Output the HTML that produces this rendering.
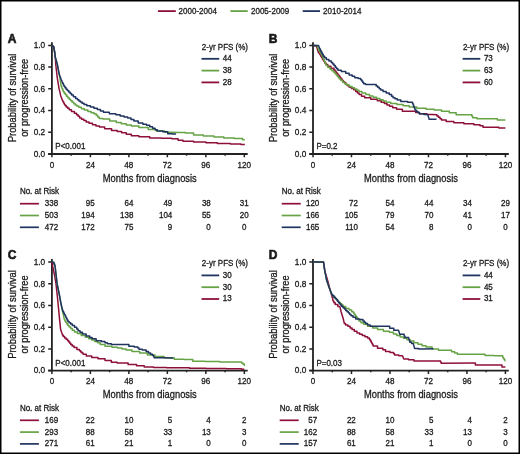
<!DOCTYPE html>
<html><head><meta charset="utf-8"><style>
html,body{margin:0;padding:0;background:#fff;}
svg{display:block;will-change:transform;}
text{font-family:"Liberation Sans", sans-serif;fill:#1a1a1a;stroke:#1a1a1a;stroke-width:0.3px;}
</style></head><body>
<svg width="520" height="454" viewBox="0 0 520 454">
<rect x="0" y="0" width="520" height="454" fill="#fff"/>
<path d="M157.9,11.1 H175.8" stroke="#8e1039" stroke-width="1.8"/>
<text x="178.60" y="13.80" font-size="8.7" textLength="38.26" lengthAdjust="spacingAndGlyphs">2000-2004</text>
<path d="M230.4,11.1 H247.7" stroke="#66a345" stroke-width="1.8"/>
<text x="251.00" y="13.80" font-size="8.7" textLength="38.26" lengthAdjust="spacingAndGlyphs">2005-2009</text>
<path d="M302.7,11.1 H320.0" stroke="#203460" stroke-width="1.8"/>
<text x="323.10" y="13.80" font-size="8.7" textLength="38.26" lengthAdjust="spacingAndGlyphs">2010-2014</text>
<g transform="translate(0,0)">
<text x="7.7" y="42.5" font-size="12" font-weight="bold" style="stroke-width:0.6px">A</text>
<text transform="translate(15.6,97.95) rotate(-90)" text-anchor="middle" font-size="10" textLength="88.6" lengthAdjust="spacingAndGlyphs">Probability of survival</text>
<text transform="translate(27.7,97.8) rotate(-90)" text-anchor="middle" font-size="10" textLength="78" lengthAdjust="spacingAndGlyphs">or progression-free</text>
<path d="M51.9,42.3 V154.0 M48.2,154.0 H247.7" stroke="#222" stroke-width="1.8" fill="none"/>
<path d="M48.2,154.00 H51.9 M48.2,132.28 H51.9 M48.2,110.56 H51.9 M48.2,88.84 H51.9 M48.2,67.12 H51.9 M48.2,45.40 H51.9 M51.90,154.0 V157.30 M71.14,154.0 V155.70 M90.38,154.0 V157.30 M109.63,154.0 V155.70 M128.87,154.0 V157.30 M148.11,154.0 V155.70 M167.35,154.0 V157.30 M186.59,154.0 V155.70 M205.84,154.0 V157.30 M225.08,154.0 V155.70 M244.32,154.0 V157.30" stroke="#222" stroke-width="1.5" fill="none"/>
<text x="45.20" y="156.80" font-size="8.7" text-anchor="end" textLength="11.47" lengthAdjust="spacingAndGlyphs">0.0</text>
<text x="45.20" y="135.08" font-size="8.7" text-anchor="end" textLength="11.47" lengthAdjust="spacingAndGlyphs">0.2</text>
<text x="45.20" y="113.36" font-size="8.7" text-anchor="end" textLength="11.47" lengthAdjust="spacingAndGlyphs">0.4</text>
<text x="45.20" y="91.64" font-size="8.7" text-anchor="end" textLength="11.47" lengthAdjust="spacingAndGlyphs">0.6</text>
<text x="45.20" y="69.92" font-size="8.7" text-anchor="end" textLength="11.47" lengthAdjust="spacingAndGlyphs">0.8</text>
<text x="45.20" y="48.20" font-size="8.7" text-anchor="end" textLength="11.47" lengthAdjust="spacingAndGlyphs">1.0</text>
<text x="51.90" y="167.60" font-size="8.7" text-anchor="middle" textLength="4.50" lengthAdjust="spacingAndGlyphs">0</text>
<text x="90.38" y="167.60" font-size="8.7" text-anchor="middle" textLength="9.01" lengthAdjust="spacingAndGlyphs">24</text>
<text x="128.87" y="167.60" font-size="8.7" text-anchor="middle" textLength="9.01" lengthAdjust="spacingAndGlyphs">48</text>
<text x="167.35" y="167.60" font-size="8.7" text-anchor="middle" textLength="9.01" lengthAdjust="spacingAndGlyphs">72</text>
<text x="205.84" y="167.60" font-size="8.7" text-anchor="middle" textLength="9.01" lengthAdjust="spacingAndGlyphs">96</text>
<text x="244.32" y="167.60" font-size="8.7" text-anchor="middle" textLength="13.51" lengthAdjust="spacingAndGlyphs">120</text>
<text x="102.8" y="182.0" font-size="10.8" textLength="94.0" lengthAdjust="spacingAndGlyphs">Months from diagnosis</text>
<text x="55.30" y="149.30" font-size="8.7" textLength="30.03" lengthAdjust="spacingAndGlyphs">P&lt;0.001</text>
<text x="201.80" y="49.60" font-size="8.7" textLength="46.22" lengthAdjust="spacingAndGlyphs">2-yr PFS (%)</text>
<path d="M201.5,58.8 H219.2" stroke="#203460" stroke-width="1.8"/>
<text x="222.80" y="61.25" font-size="8.2" textLength="8.90" lengthAdjust="spacingAndGlyphs">44</text>
<path d="M201.5,70.6 H219.2" stroke="#66a345" stroke-width="1.8"/>
<text x="222.80" y="73.05" font-size="8.2" textLength="8.90" lengthAdjust="spacingAndGlyphs">38</text>
<path d="M201.5,82.4 H219.2" stroke="#8e1039" stroke-width="1.8"/>
<text x="222.80" y="84.85" font-size="8.2" textLength="8.90" lengthAdjust="spacingAndGlyphs">28</text>
<text x="19.90" y="194.20" font-size="8.7" textLength="39.12" lengthAdjust="spacingAndGlyphs">No. at Risk</text>
<path d="M19.9,203.7 H38.9" stroke="#8e1039" stroke-width="1.7"/>
<text x="58.20" y="206.30" font-size="8.7" text-anchor="end" textLength="13.35" lengthAdjust="spacingAndGlyphs">338</text>
<text x="94.70" y="206.30" font-size="8.7" text-anchor="end" textLength="8.90" lengthAdjust="spacingAndGlyphs">95</text>
<text x="133.40" y="206.30" font-size="8.7" text-anchor="end" textLength="8.90" lengthAdjust="spacingAndGlyphs">64</text>
<text x="172.30" y="206.30" font-size="8.7" text-anchor="end" textLength="8.90" lengthAdjust="spacingAndGlyphs">49</text>
<text x="210.80" y="206.30" font-size="8.7" text-anchor="end" textLength="8.90" lengthAdjust="spacingAndGlyphs">38</text>
<text x="244.30" y="206.30" font-size="8.7" text-anchor="middle" textLength="8.90" lengthAdjust="spacingAndGlyphs">31</text>
<path d="M19.9,215.5 H38.9" stroke="#66a345" stroke-width="1.7"/>
<text x="58.20" y="218.10" font-size="8.7" text-anchor="end" textLength="13.35" lengthAdjust="spacingAndGlyphs">503</text>
<text x="94.70" y="218.10" font-size="8.7" text-anchor="end" textLength="13.35" lengthAdjust="spacingAndGlyphs">194</text>
<text x="133.40" y="218.10" font-size="8.7" text-anchor="end" textLength="13.35" lengthAdjust="spacingAndGlyphs">138</text>
<text x="172.30" y="218.10" font-size="8.7" text-anchor="end" textLength="13.35" lengthAdjust="spacingAndGlyphs">104</text>
<text x="210.80" y="218.10" font-size="8.7" text-anchor="end" textLength="8.90" lengthAdjust="spacingAndGlyphs">55</text>
<text x="244.30" y="218.10" font-size="8.7" text-anchor="middle" textLength="8.90" lengthAdjust="spacingAndGlyphs">20</text>
<path d="M19.9,227.3 H38.9" stroke="#203460" stroke-width="1.7"/>
<text x="58.20" y="229.90" font-size="8.7" text-anchor="end" textLength="13.35" lengthAdjust="spacingAndGlyphs">472</text>
<text x="94.70" y="229.90" font-size="8.7" text-anchor="end" textLength="13.35" lengthAdjust="spacingAndGlyphs">172</text>
<text x="133.40" y="229.90" font-size="8.7" text-anchor="end" textLength="8.90" lengthAdjust="spacingAndGlyphs">75</text>
<text x="172.30" y="229.90" font-size="8.7" text-anchor="end" textLength="4.45" lengthAdjust="spacingAndGlyphs">9</text>
<text x="210.80" y="229.90" font-size="8.7" text-anchor="end" textLength="4.45" lengthAdjust="spacingAndGlyphs">0</text>
<text x="244.30" y="229.90" font-size="8.7" text-anchor="middle" textLength="4.45" lengthAdjust="spacingAndGlyphs">0</text>
</g>
<g transform="translate(261.1,0)">
<text x="7.7" y="42.5" font-size="12" font-weight="bold" style="stroke-width:0.6px">B</text>
<text transform="translate(15.6,97.95) rotate(-90)" text-anchor="middle" font-size="10" textLength="88.6" lengthAdjust="spacingAndGlyphs">Probability of survival</text>
<text transform="translate(27.7,97.8) rotate(-90)" text-anchor="middle" font-size="10" textLength="78" lengthAdjust="spacingAndGlyphs">or progression-free</text>
<path d="M51.9,42.3 V154.0 M48.2,154.0 H247.7" stroke="#222" stroke-width="1.8" fill="none"/>
<path d="M48.2,154.00 H51.9 M48.2,132.28 H51.9 M48.2,110.56 H51.9 M48.2,88.84 H51.9 M48.2,67.12 H51.9 M48.2,45.40 H51.9 M51.90,154.0 V157.30 M71.14,154.0 V155.70 M90.38,154.0 V157.30 M109.63,154.0 V155.70 M128.87,154.0 V157.30 M148.11,154.0 V155.70 M167.35,154.0 V157.30 M186.59,154.0 V155.70 M205.84,154.0 V157.30 M225.08,154.0 V155.70 M244.32,154.0 V157.30" stroke="#222" stroke-width="1.5" fill="none"/>
<text x="45.20" y="156.80" font-size="8.7" text-anchor="end" textLength="11.47" lengthAdjust="spacingAndGlyphs">0.0</text>
<text x="45.20" y="135.08" font-size="8.7" text-anchor="end" textLength="11.47" lengthAdjust="spacingAndGlyphs">0.2</text>
<text x="45.20" y="113.36" font-size="8.7" text-anchor="end" textLength="11.47" lengthAdjust="spacingAndGlyphs">0.4</text>
<text x="45.20" y="91.64" font-size="8.7" text-anchor="end" textLength="11.47" lengthAdjust="spacingAndGlyphs">0.6</text>
<text x="45.20" y="69.92" font-size="8.7" text-anchor="end" textLength="11.47" lengthAdjust="spacingAndGlyphs">0.8</text>
<text x="45.20" y="48.20" font-size="8.7" text-anchor="end" textLength="11.47" lengthAdjust="spacingAndGlyphs">1.0</text>
<text x="51.90" y="167.60" font-size="8.7" text-anchor="middle" textLength="4.50" lengthAdjust="spacingAndGlyphs">0</text>
<text x="90.38" y="167.60" font-size="8.7" text-anchor="middle" textLength="9.01" lengthAdjust="spacingAndGlyphs">24</text>
<text x="128.87" y="167.60" font-size="8.7" text-anchor="middle" textLength="9.01" lengthAdjust="spacingAndGlyphs">48</text>
<text x="167.35" y="167.60" font-size="8.7" text-anchor="middle" textLength="9.01" lengthAdjust="spacingAndGlyphs">72</text>
<text x="205.84" y="167.60" font-size="8.7" text-anchor="middle" textLength="9.01" lengthAdjust="spacingAndGlyphs">96</text>
<text x="244.32" y="167.60" font-size="8.7" text-anchor="middle" textLength="13.51" lengthAdjust="spacingAndGlyphs">120</text>
<text x="102.8" y="182.0" font-size="10.8" textLength="94.0" lengthAdjust="spacingAndGlyphs">Months from diagnosis</text>
<text x="55.30" y="149.30" font-size="8.7" textLength="21.13" lengthAdjust="spacingAndGlyphs">P=0.2</text>
<text x="201.80" y="49.60" font-size="8.7" textLength="46.22" lengthAdjust="spacingAndGlyphs">2-yr PFS (%)</text>
<path d="M201.5,58.8 H219.2" stroke="#203460" stroke-width="1.8"/>
<text x="222.80" y="61.25" font-size="8.2" textLength="8.90" lengthAdjust="spacingAndGlyphs">73</text>
<path d="M201.5,70.6 H219.2" stroke="#66a345" stroke-width="1.8"/>
<text x="222.80" y="73.05" font-size="8.2" textLength="8.90" lengthAdjust="spacingAndGlyphs">63</text>
<path d="M201.5,82.4 H219.2" stroke="#8e1039" stroke-width="1.8"/>
<text x="222.80" y="84.85" font-size="8.2" textLength="8.90" lengthAdjust="spacingAndGlyphs">60</text>
<text x="20.60" y="194.20" font-size="8.7" textLength="39.12" lengthAdjust="spacingAndGlyphs">No. at Risk</text>
<path d="M20.6,203.7 H39.6" stroke="#8e1039" stroke-width="1.7"/>
<text x="58.20" y="206.30" font-size="8.7" text-anchor="end" textLength="13.35" lengthAdjust="spacingAndGlyphs">120</text>
<text x="96.90" y="206.30" font-size="8.7" text-anchor="end" textLength="8.90" lengthAdjust="spacingAndGlyphs">72</text>
<text x="133.40" y="206.30" font-size="8.7" text-anchor="end" textLength="8.90" lengthAdjust="spacingAndGlyphs">54</text>
<text x="172.30" y="206.30" font-size="8.7" text-anchor="end" textLength="8.90" lengthAdjust="spacingAndGlyphs">44</text>
<text x="210.80" y="206.30" font-size="8.7" text-anchor="end" textLength="8.90" lengthAdjust="spacingAndGlyphs">34</text>
<text x="244.30" y="206.30" font-size="8.7" text-anchor="middle" textLength="8.90" lengthAdjust="spacingAndGlyphs">29</text>
<path d="M20.6,215.5 H39.6" stroke="#66a345" stroke-width="1.7"/>
<text x="58.20" y="218.10" font-size="8.7" text-anchor="end" textLength="13.35" lengthAdjust="spacingAndGlyphs">166</text>
<text x="96.90" y="218.10" font-size="8.7" text-anchor="end" textLength="13.35" lengthAdjust="spacingAndGlyphs">105</text>
<text x="133.40" y="218.10" font-size="8.7" text-anchor="end" textLength="8.90" lengthAdjust="spacingAndGlyphs">79</text>
<text x="172.30" y="218.10" font-size="8.7" text-anchor="end" textLength="8.90" lengthAdjust="spacingAndGlyphs">70</text>
<text x="210.80" y="218.10" font-size="8.7" text-anchor="end" textLength="8.90" lengthAdjust="spacingAndGlyphs">41</text>
<text x="244.30" y="218.10" font-size="8.7" text-anchor="middle" textLength="8.90" lengthAdjust="spacingAndGlyphs">17</text>
<path d="M20.6,227.3 H39.6" stroke="#203460" stroke-width="1.7"/>
<text x="58.20" y="229.90" font-size="8.7" text-anchor="end" textLength="13.35" lengthAdjust="spacingAndGlyphs">165</text>
<text x="96.90" y="229.90" font-size="8.7" text-anchor="end" textLength="12.75" lengthAdjust="spacingAndGlyphs">110</text>
<text x="133.40" y="229.90" font-size="8.7" text-anchor="end" textLength="8.90" lengthAdjust="spacingAndGlyphs">54</text>
<text x="172.30" y="229.90" font-size="8.7" text-anchor="end" textLength="4.45" lengthAdjust="spacingAndGlyphs">8</text>
<text x="210.80" y="229.90" font-size="8.7" text-anchor="end" textLength="4.45" lengthAdjust="spacingAndGlyphs">0</text>
<text x="244.30" y="229.90" font-size="8.7" text-anchor="middle" textLength="4.45" lengthAdjust="spacingAndGlyphs">0</text>
</g>
<g transform="translate(0,216.6)">
<text x="7.7" y="42.5" font-size="12" font-weight="bold" style="stroke-width:0.6px">C</text>
<text transform="translate(15.6,97.95) rotate(-90)" text-anchor="middle" font-size="10" textLength="88.6" lengthAdjust="spacingAndGlyphs">Probability of survival</text>
<text transform="translate(27.7,97.8) rotate(-90)" text-anchor="middle" font-size="10" textLength="78" lengthAdjust="spacingAndGlyphs">or progression-free</text>
<path d="M51.9,42.3 V154.0 M48.2,154.0 H247.7" stroke="#222" stroke-width="1.8" fill="none"/>
<path d="M48.2,154.00 H51.9 M48.2,132.28 H51.9 M48.2,110.56 H51.9 M48.2,88.84 H51.9 M48.2,67.12 H51.9 M48.2,45.40 H51.9 M51.90,154.0 V157.30 M71.14,154.0 V155.70 M90.38,154.0 V157.30 M109.63,154.0 V155.70 M128.87,154.0 V157.30 M148.11,154.0 V155.70 M167.35,154.0 V157.30 M186.59,154.0 V155.70 M205.84,154.0 V157.30 M225.08,154.0 V155.70 M244.32,154.0 V157.30" stroke="#222" stroke-width="1.5" fill="none"/>
<text x="45.20" y="156.80" font-size="8.7" text-anchor="end" textLength="11.47" lengthAdjust="spacingAndGlyphs">0.0</text>
<text x="45.20" y="135.08" font-size="8.7" text-anchor="end" textLength="11.47" lengthAdjust="spacingAndGlyphs">0.2</text>
<text x="45.20" y="113.36" font-size="8.7" text-anchor="end" textLength="11.47" lengthAdjust="spacingAndGlyphs">0.4</text>
<text x="45.20" y="91.64" font-size="8.7" text-anchor="end" textLength="11.47" lengthAdjust="spacingAndGlyphs">0.6</text>
<text x="45.20" y="69.92" font-size="8.7" text-anchor="end" textLength="11.47" lengthAdjust="spacingAndGlyphs">0.8</text>
<text x="45.20" y="48.20" font-size="8.7" text-anchor="end" textLength="11.47" lengthAdjust="spacingAndGlyphs">1.0</text>
<text x="51.90" y="167.60" font-size="8.7" text-anchor="middle" textLength="4.50" lengthAdjust="spacingAndGlyphs">0</text>
<text x="90.38" y="167.60" font-size="8.7" text-anchor="middle" textLength="9.01" lengthAdjust="spacingAndGlyphs">24</text>
<text x="128.87" y="167.60" font-size="8.7" text-anchor="middle" textLength="9.01" lengthAdjust="spacingAndGlyphs">48</text>
<text x="167.35" y="167.60" font-size="8.7" text-anchor="middle" textLength="9.01" lengthAdjust="spacingAndGlyphs">72</text>
<text x="205.84" y="167.60" font-size="8.7" text-anchor="middle" textLength="9.01" lengthAdjust="spacingAndGlyphs">96</text>
<text x="244.32" y="167.60" font-size="8.7" text-anchor="middle" textLength="13.51" lengthAdjust="spacingAndGlyphs">120</text>
<text x="102.8" y="181.4" font-size="10.8" textLength="94.0" lengthAdjust="spacingAndGlyphs">Months from diagnosis</text>
<text x="55.30" y="149.30" font-size="8.7" textLength="30.03" lengthAdjust="spacingAndGlyphs">P&lt;0.001</text>
<text x="201.80" y="49.60" font-size="8.7" textLength="46.22" lengthAdjust="spacingAndGlyphs">2-yr PFS (%)</text>
<path d="M201.5,58.8 H219.2" stroke="#203460" stroke-width="1.8"/>
<text x="222.80" y="61.25" font-size="8.2" textLength="8.90" lengthAdjust="spacingAndGlyphs">30</text>
<path d="M201.5,70.6 H219.2" stroke="#66a345" stroke-width="1.8"/>
<text x="222.80" y="73.05" font-size="8.2" textLength="8.90" lengthAdjust="spacingAndGlyphs">30</text>
<path d="M201.5,82.4 H219.2" stroke="#8e1039" stroke-width="1.8"/>
<text x="222.80" y="84.85" font-size="8.2" textLength="8.90" lengthAdjust="spacingAndGlyphs">13</text>
<text x="19.90" y="194.20" font-size="8.7" textLength="39.12" lengthAdjust="spacingAndGlyphs">No. at Risk</text>
<path d="M19.9,203.7 H38.9" stroke="#8e1039" stroke-width="1.7"/>
<text x="58.20" y="206.30" font-size="8.7" text-anchor="end" textLength="13.35" lengthAdjust="spacingAndGlyphs">169</text>
<text x="94.70" y="206.30" font-size="8.7" text-anchor="end" textLength="8.90" lengthAdjust="spacingAndGlyphs">22</text>
<text x="133.40" y="206.30" font-size="8.7" text-anchor="end" textLength="8.90" lengthAdjust="spacingAndGlyphs">10</text>
<text x="172.30" y="206.30" font-size="8.7" text-anchor="end" textLength="4.45" lengthAdjust="spacingAndGlyphs">5</text>
<text x="210.80" y="206.30" font-size="8.7" text-anchor="end" textLength="4.45" lengthAdjust="spacingAndGlyphs">4</text>
<text x="244.30" y="206.30" font-size="8.7" text-anchor="middle" textLength="4.45" lengthAdjust="spacingAndGlyphs">2</text>
<path d="M19.9,215.5 H38.9" stroke="#66a345" stroke-width="1.7"/>
<text x="58.20" y="218.10" font-size="8.7" text-anchor="end" textLength="13.35" lengthAdjust="spacingAndGlyphs">293</text>
<text x="94.70" y="218.10" font-size="8.7" text-anchor="end" textLength="8.90" lengthAdjust="spacingAndGlyphs">88</text>
<text x="133.40" y="218.10" font-size="8.7" text-anchor="end" textLength="8.90" lengthAdjust="spacingAndGlyphs">58</text>
<text x="172.30" y="218.10" font-size="8.7" text-anchor="end" textLength="8.90" lengthAdjust="spacingAndGlyphs">33</text>
<text x="210.80" y="218.10" font-size="8.7" text-anchor="end" textLength="8.90" lengthAdjust="spacingAndGlyphs">13</text>
<text x="244.30" y="218.10" font-size="8.7" text-anchor="middle" textLength="4.45" lengthAdjust="spacingAndGlyphs">3</text>
<path d="M19.9,227.3 H38.9" stroke="#203460" stroke-width="1.7"/>
<text x="58.20" y="229.90" font-size="8.7" text-anchor="end" textLength="13.35" lengthAdjust="spacingAndGlyphs">271</text>
<text x="94.70" y="229.90" font-size="8.7" text-anchor="end" textLength="8.90" lengthAdjust="spacingAndGlyphs">61</text>
<text x="133.40" y="229.90" font-size="8.7" text-anchor="end" textLength="8.90" lengthAdjust="spacingAndGlyphs">21</text>
<text x="172.30" y="229.90" font-size="8.7" text-anchor="end" textLength="4.45" lengthAdjust="spacingAndGlyphs">1</text>
<text x="210.80" y="229.90" font-size="8.7" text-anchor="end" textLength="4.45" lengthAdjust="spacingAndGlyphs">0</text>
<text x="244.30" y="229.90" font-size="8.7" text-anchor="middle" textLength="4.45" lengthAdjust="spacingAndGlyphs">0</text>
</g>
<g transform="translate(261.1,216.6)">
<text x="7.7" y="42.5" font-size="12" font-weight="bold" style="stroke-width:0.6px">D</text>
<text transform="translate(15.6,97.95) rotate(-90)" text-anchor="middle" font-size="10" textLength="88.6" lengthAdjust="spacingAndGlyphs">Probability of survival</text>
<text transform="translate(27.7,97.8) rotate(-90)" text-anchor="middle" font-size="10" textLength="78" lengthAdjust="spacingAndGlyphs">or progression-free</text>
<path d="M51.9,42.3 V154.0 M48.2,154.0 H247.7" stroke="#222" stroke-width="1.8" fill="none"/>
<path d="M48.2,154.00 H51.9 M48.2,132.28 H51.9 M48.2,110.56 H51.9 M48.2,88.84 H51.9 M48.2,67.12 H51.9 M48.2,45.40 H51.9 M51.90,154.0 V157.30 M71.14,154.0 V155.70 M90.38,154.0 V157.30 M109.63,154.0 V155.70 M128.87,154.0 V157.30 M148.11,154.0 V155.70 M167.35,154.0 V157.30 M186.59,154.0 V155.70 M205.84,154.0 V157.30 M225.08,154.0 V155.70 M244.32,154.0 V157.30" stroke="#222" stroke-width="1.5" fill="none"/>
<text x="45.20" y="156.80" font-size="8.7" text-anchor="end" textLength="11.47" lengthAdjust="spacingAndGlyphs">0.0</text>
<text x="45.20" y="135.08" font-size="8.7" text-anchor="end" textLength="11.47" lengthAdjust="spacingAndGlyphs">0.2</text>
<text x="45.20" y="113.36" font-size="8.7" text-anchor="end" textLength="11.47" lengthAdjust="spacingAndGlyphs">0.4</text>
<text x="45.20" y="91.64" font-size="8.7" text-anchor="end" textLength="11.47" lengthAdjust="spacingAndGlyphs">0.6</text>
<text x="45.20" y="69.92" font-size="8.7" text-anchor="end" textLength="11.47" lengthAdjust="spacingAndGlyphs">0.8</text>
<text x="45.20" y="48.20" font-size="8.7" text-anchor="end" textLength="11.47" lengthAdjust="spacingAndGlyphs">1.0</text>
<text x="51.90" y="167.60" font-size="8.7" text-anchor="middle" textLength="4.50" lengthAdjust="spacingAndGlyphs">0</text>
<text x="90.38" y="167.60" font-size="8.7" text-anchor="middle" textLength="9.01" lengthAdjust="spacingAndGlyphs">24</text>
<text x="128.87" y="167.60" font-size="8.7" text-anchor="middle" textLength="9.01" lengthAdjust="spacingAndGlyphs">48</text>
<text x="167.35" y="167.60" font-size="8.7" text-anchor="middle" textLength="9.01" lengthAdjust="spacingAndGlyphs">72</text>
<text x="205.84" y="167.60" font-size="8.7" text-anchor="middle" textLength="9.01" lengthAdjust="spacingAndGlyphs">96</text>
<text x="244.32" y="167.60" font-size="8.7" text-anchor="middle" textLength="13.51" lengthAdjust="spacingAndGlyphs">120</text>
<text x="102.8" y="181.4" font-size="10.8" textLength="94.0" lengthAdjust="spacingAndGlyphs">Months from diagnosis</text>
<text x="55.30" y="149.30" font-size="8.7" textLength="25.58" lengthAdjust="spacingAndGlyphs">P=0.03</text>
<text x="201.80" y="49.60" font-size="8.7" textLength="46.22" lengthAdjust="spacingAndGlyphs">2-yr PFS (%)</text>
<path d="M201.5,58.8 H219.2" stroke="#203460" stroke-width="1.8"/>
<text x="222.80" y="61.25" font-size="8.2" textLength="8.90" lengthAdjust="spacingAndGlyphs">44</text>
<path d="M201.5,70.6 H219.2" stroke="#66a345" stroke-width="1.8"/>
<text x="222.80" y="73.05" font-size="8.2" textLength="8.90" lengthAdjust="spacingAndGlyphs">45</text>
<path d="M201.5,82.4 H219.2" stroke="#8e1039" stroke-width="1.8"/>
<text x="222.80" y="84.85" font-size="8.2" textLength="8.90" lengthAdjust="spacingAndGlyphs">31</text>
<text x="18.60" y="194.20" font-size="8.7" textLength="39.12" lengthAdjust="spacingAndGlyphs">No. at Risk</text>
<path d="M18.6,203.7 H37.6" stroke="#8e1039" stroke-width="1.7"/>
<text x="56.00" y="206.30" font-size="8.7" text-anchor="end" textLength="8.90" lengthAdjust="spacingAndGlyphs">57</text>
<text x="94.70" y="206.30" font-size="8.7" text-anchor="end" textLength="8.90" lengthAdjust="spacingAndGlyphs">22</text>
<text x="133.40" y="206.30" font-size="8.7" text-anchor="end" textLength="8.90" lengthAdjust="spacingAndGlyphs">10</text>
<text x="172.30" y="206.30" font-size="8.7" text-anchor="end" textLength="4.45" lengthAdjust="spacingAndGlyphs">5</text>
<text x="210.80" y="206.30" font-size="8.7" text-anchor="end" textLength="4.45" lengthAdjust="spacingAndGlyphs">4</text>
<text x="244.30" y="206.30" font-size="8.7" text-anchor="middle" textLength="4.45" lengthAdjust="spacingAndGlyphs">2</text>
<path d="M18.6,215.5 H37.6" stroke="#66a345" stroke-width="1.7"/>
<text x="56.00" y="218.10" font-size="8.7" text-anchor="end" textLength="13.35" lengthAdjust="spacingAndGlyphs">162</text>
<text x="94.70" y="218.10" font-size="8.7" text-anchor="end" textLength="8.90" lengthAdjust="spacingAndGlyphs">88</text>
<text x="133.40" y="218.10" font-size="8.7" text-anchor="end" textLength="8.90" lengthAdjust="spacingAndGlyphs">58</text>
<text x="172.30" y="218.10" font-size="8.7" text-anchor="end" textLength="8.90" lengthAdjust="spacingAndGlyphs">33</text>
<text x="210.80" y="218.10" font-size="8.7" text-anchor="end" textLength="8.90" lengthAdjust="spacingAndGlyphs">13</text>
<text x="244.30" y="218.10" font-size="8.7" text-anchor="middle" textLength="4.45" lengthAdjust="spacingAndGlyphs">3</text>
<path d="M18.6,227.3 H37.6" stroke="#203460" stroke-width="1.7"/>
<text x="56.00" y="229.90" font-size="8.7" text-anchor="end" textLength="13.35" lengthAdjust="spacingAndGlyphs">157</text>
<text x="94.70" y="229.90" font-size="8.7" text-anchor="end" textLength="8.90" lengthAdjust="spacingAndGlyphs">61</text>
<text x="133.40" y="229.90" font-size="8.7" text-anchor="end" textLength="8.90" lengthAdjust="spacingAndGlyphs">21</text>
<text x="172.30" y="229.90" font-size="8.7" text-anchor="end" textLength="4.45" lengthAdjust="spacingAndGlyphs">1</text>
<text x="210.80" y="229.90" font-size="8.7" text-anchor="end" textLength="4.45" lengthAdjust="spacingAndGlyphs">0</text>
<text x="244.30" y="229.90" font-size="8.7" text-anchor="middle" textLength="4.45" lengthAdjust="spacingAndGlyphs">0</text>
</g>
<path d="M51.90,45.40 L52.25,45.40 L52.25,46.00 L52.60,46.00 L53.10,46.00 L53.10,46.50 L53.60,46.50 L54.60,51.90 L55.30,57.50 L55.80,65.00 L57.30,78.20 L59.10,88.80 L60.80,95.90 L62.50,100.50 L62.86,100.50 L62.86,101.75 L63.59,101.75 L63.59,103.00 L64.31,103.00 L64.31,104.25 L65.04,104.25 L65.04,105.50 L65.40,105.50 L66.17,105.50 L66.17,106.93 L67.70,106.93 L67.70,108.37 L69.23,108.37 L69.23,109.80 L70.00,109.80 L71.45,109.80 L71.45,111.55 L74.35,111.55 L74.35,113.30 L75.80,113.30 L76.57,113.30 L76.57,114.83 L78.10,114.83 L78.10,116.37 L79.63,116.37 L79.63,117.90 L80.40,117.90 L81.55,117.90 L81.55,119.23 L83.85,119.23 L83.85,120.57 L86.15,120.57 L86.15,121.90 L87.30,121.90 L89.03,121.90 L89.03,123.35 L92.47,123.35 L92.47,124.80 L94.20,124.80 L95.95,124.80 L95.95,125.95 L99.45,125.95 L99.45,127.10 L101.20,127.10 L104.65,127.10 L104.65,128.80 L108.10,128.80 L111.55,128.80 L111.55,130.40 L115.00,130.40 L117.20,130.40 L117.20,131.60 L121.60,131.60 L121.60,132.80 L123.80,132.80 L126.30,132.80 L126.30,134.30 L131.30,134.30 L131.30,135.80 L133.80,135.80 L138.85,135.80 L138.85,136.80 L143.90,136.80 L149.70,136.80 L149.70,138.00 L155.50,138.00 L161.25,138.00 L161.25,138.30 L167.00,138.30 L171.70,138.30 L171.70,138.70 L176.40,138.70 L178.05,138.70 L178.05,140.30 L179.70,140.30 L182.95,140.30 L182.95,141.20 L186.20,141.20 L193.60,141.20 L193.60,142.00 L201.00,142.00 L205.90,142.00 L205.90,142.80 L210.80,142.80 L217.30,142.80 L217.30,143.60 L223.80,143.60 L230.35,143.60 L230.35,144.10 L236.90,144.10 L240.85,144.10 L240.85,144.40 L244.80,144.40" fill="none" stroke="#8e1039" stroke-width="1.5" stroke-linejoin="round"/>
<path d="M51.90,45.40 L52.25,45.40 L52.25,46.00 L52.60,46.00 L53.10,46.00 L53.10,46.50 L53.60,46.50 L54.60,51.90 L55.30,57.20 L56.60,61.80 L57.60,65.80 L59.10,73.80 L60.20,79.50 L61.00,85.30 L61.31,85.30 L61.31,86.85 L61.94,86.85 L61.94,88.40 L62.56,88.40 L62.56,89.95 L63.19,89.95 L63.19,91.50 L63.50,91.50 L64.08,91.50 L64.08,93.05 L65.22,93.05 L65.22,94.60 L65.80,94.60 L66.47,94.60 L66.47,96.13 L67.80,96.13 L67.80,97.67 L69.13,97.67 L69.13,99.20 L69.80,99.20 L70.58,99.20 L70.58,100.73 L72.15,100.73 L72.15,102.27 L73.72,102.27 L73.72,103.80 L74.50,103.80 L75.25,103.80 L75.25,104.90 L76.75,104.90 L76.75,106.00 L77.50,106.00 L78.80,106.00 L78.80,107.35 L81.40,107.35 L81.40,108.70 L82.70,108.70 L84.42,108.70 L84.42,110.10 L87.88,110.10 L87.88,111.50 L89.60,111.50 L91.05,111.50 L91.05,112.65 L93.95,112.65 L93.95,113.80 L95.40,113.80 L96.17,113.80 L96.17,115.37 L97.70,115.37 L97.70,116.93 L99.23,116.93 L99.23,118.50 L100.00,118.50 L102.90,118.50 L102.90,119.00 L105.80,119.00 L109.75,119.00 L109.75,121.00 L113.70,121.00 L116.22,121.00 L116.22,122.40 L121.28,122.40 L121.28,123.80 L123.80,123.80 L126.30,123.80 L126.30,124.90 L131.30,124.90 L131.30,126.00 L133.80,126.00 L138.85,126.00 L138.85,127.50 L143.90,127.50 L148.25,127.50 L148.25,129.60 L152.60,129.60 L156.20,129.60 L156.20,131.10 L159.80,131.10 L164.85,131.10 L164.85,132.20 L169.90,132.20 L181.30,132.40 L185.40,132.40 L185.40,133.00 L189.50,133.00 L193.60,133.00 L193.60,135.00 L197.70,135.00 L203.40,135.00 L203.40,135.90 L209.10,135.90 L214.00,135.90 L214.00,137.10 L218.90,137.10 L223.80,137.10 L223.80,137.90 L228.70,137.90 L234.45,137.90 L234.45,138.40 L240.20,138.40 L242.50,138.40 L242.50,139.80 L244.80,139.80" fill="none" stroke="#66a345" stroke-width="1.5" stroke-linejoin="round"/>
<path d="M51.90,45.40 L52.25,45.40 L52.25,46.00 L52.60,46.00 L53.10,46.00 L53.10,46.50 L53.60,46.50 L54.60,51.90 L55.30,57.20 L56.60,61.80 L57.60,65.80 L59.10,73.80 L61.70,80.90 L62.04,80.90 L62.04,82.23 L62.71,82.23 L62.71,83.55 L63.39,83.55 L63.39,84.88 L64.06,84.88 L64.06,86.20 L64.40,86.20 L64.98,86.20 L64.98,87.67 L66.15,87.67 L66.15,89.13 L67.32,89.13 L67.32,90.60 L67.90,90.60 L68.63,90.60 L68.63,92.07 L70.10,92.07 L70.10,93.53 L71.57,93.53 L71.57,95.00 L72.30,95.00 L73.40,95.00 L73.40,96.75 L75.60,96.75 L75.60,98.50 L76.70,98.50 L77.43,98.50 L77.43,99.70 L78.90,99.70 L78.90,100.90 L80.37,100.90 L80.37,102.10 L81.10,102.10 L82.07,102.10 L82.07,103.25 L84.03,103.25 L84.03,104.40 L85.00,104.40 L86.83,104.40 L86.83,105.65 L90.47,105.65 L90.47,106.90 L92.30,106.90 L93.95,106.90 L93.95,108.20 L97.25,108.20 L97.25,109.50 L98.90,109.50 L100.43,109.50 L100.43,110.90 L103.47,110.90 L103.47,112.30 L105.00,112.30 L109.35,112.30 L109.35,113.80 L113.70,113.80 L115.85,113.80 L115.85,114.85 L120.15,114.85 L120.15,115.90 L122.30,115.90 L124.10,115.90 L124.10,117.00 L127.70,117.00 L127.70,118.10 L129.50,118.10 L130.95,118.10 L130.95,119.55 L133.85,119.55 L133.85,121.00 L135.30,121.00 L138.20,121.00 L138.20,123.10 L141.10,123.10 L142.90,123.10 L142.90,124.20 L146.50,124.20 L146.50,125.30 L148.30,125.30 L149.73,125.30 L149.73,126.75 L152.57,126.75 L152.57,128.20 L154.00,128.20 L155.10,128.20 L155.10,129.65 L157.30,129.65 L157.30,131.10 L158.40,131.10 L162.70,131.10 L162.70,131.80 L167.00,131.80 L167.75,131.80 L167.75,133.70 L168.50,133.70 L172.30,133.70 L172.30,134.00 L176.10,134.00" fill="none" stroke="#203460" stroke-width="1.5" stroke-linejoin="round"/>
<path d="M313.00,45.40 L314.75,45.40 L314.75,46.00 L316.50,46.00 L317.80,50.80 L318.23,50.80 L318.23,52.15 L319.07,52.15 L319.07,53.50 L319.93,53.50 L319.93,54.85 L320.77,54.85 L320.77,56.20 L321.20,56.20 L321.60,56.20 L321.60,57.54 L322.40,57.54 L322.40,58.88 L323.20,58.88 L323.20,60.22 L324.00,60.22 L324.00,61.56 L324.80,61.56 L324.80,62.90 L325.20,62.90 L326.05,62.90 L326.05,64.55 L327.75,64.55 L327.75,66.20 L328.60,66.20 L330.95,66.20 L330.95,68.30 L333.30,68.30 L333.80,68.30 L333.80,69.62 L334.80,69.62 L334.80,70.95 L335.80,70.95 L335.80,72.27 L336.80,72.27 L336.80,73.60 L337.30,73.60 L337.84,73.60 L337.84,74.96 L338.92,74.96 L338.92,76.32 L340.00,76.32 L340.00,77.68 L341.08,77.68 L341.08,79.04 L342.16,79.04 L342.16,80.40 L342.70,80.40 L343.38,80.40 L343.38,81.75 L344.73,81.75 L344.73,83.10 L346.07,83.10 L346.07,84.45 L347.43,84.45 L347.43,85.80 L348.10,85.80 L349.22,85.80 L349.22,87.13 L351.45,87.13 L351.45,88.47 L353.68,88.47 L353.68,89.80 L354.80,89.80 L355.67,89.80 L355.67,91.40 L357.40,91.40 L357.40,93.00 L359.13,93.00 L359.13,94.60 L360.00,94.60 L361.55,94.60 L361.55,96.15 L364.65,96.15 L364.65,97.70 L366.20,97.70 L370.80,97.70 L370.80,99.20 L375.40,99.20 L377.32,99.20 L377.32,100.75 L381.18,100.75 L381.18,102.30 L383.10,102.30 L384.38,102.30 L384.38,103.60 L386.95,103.60 L386.95,104.90 L389.52,104.90 L389.52,106.20 L390.80,106.20 L392.73,106.20 L392.73,107.70 L396.57,107.70 L396.57,109.20 L398.50,109.20 L402.35,109.20 L402.35,111.20 L406.20,111.20 L413.80,111.20 L415.73,111.20 L415.73,112.50 L419.57,112.50 L419.57,113.80 L421.50,113.80 L426.90,113.80 L426.90,114.60 L432.30,114.60 L436.20,114.70 L436.95,114.70 L436.95,116.00 L438.45,116.00 L438.45,117.30 L439.20,117.30 L439.98,117.30 L439.98,118.70 L441.52,118.70 L441.52,120.10 L442.30,120.10 L446.15,120.10 L446.15,121.50 L450.00,121.50 L453.85,121.50 L453.85,122.70 L457.70,122.70 L463.85,122.70 L463.85,123.80 L470.00,123.80 L473.85,123.80 L473.85,124.70 L477.70,124.70 L480.00,124.70 L480.00,125.80 L482.30,125.80 L483.05,125.80 L483.05,127.30 L483.80,127.30 L497.70,127.30 L498.85,127.30 L498.85,128.10 L500.00,128.10 L505.40,128.10" fill="none" stroke="#8e1039" stroke-width="1.5" stroke-linejoin="round"/>
<path d="M313.00,45.40 L317.10,45.40 L318.50,49.40 L318.90,49.40 L318.90,50.76 L319.70,50.76 L319.70,52.12 L320.50,52.12 L320.50,53.48 L321.30,53.48 L321.30,54.84 L322.10,54.84 L322.10,56.20 L322.50,56.20 L322.79,56.20 L322.79,57.54 L323.36,57.54 L323.36,58.89 L323.93,58.89 L323.93,60.23 L324.50,60.23 L324.50,61.57 L325.07,61.57 L325.07,62.91 L325.64,62.91 L325.64,64.26 L326.21,64.26 L326.21,65.60 L326.50,65.60 L327.85,65.60 L327.85,67.60 L329.20,67.60 L330.10,67.60 L330.10,69.17 L331.90,69.17 L331.90,70.73 L333.70,70.73 L333.70,72.30 L334.60,72.30 L335.14,72.30 L335.14,73.64 L336.22,73.64 L336.22,74.98 L337.30,74.98 L337.30,76.32 L338.38,76.32 L338.38,77.66 L339.46,77.66 L339.46,79.00 L340.00,79.00 L340.90,79.00 L340.90,80.57 L342.70,80.57 L342.70,82.13 L344.50,82.13 L344.50,83.70 L345.40,83.70 L346.75,83.70 L346.75,85.07 L349.45,85.07 L349.45,86.43 L352.15,86.43 L352.15,87.80 L353.50,87.80 L354.58,87.80 L354.58,89.03 L356.75,89.03 L356.75,90.27 L358.92,90.27 L358.92,91.50 L360.00,91.50 L361.93,91.50 L361.93,93.05 L365.77,93.05 L365.77,94.60 L367.70,94.60 L369.50,94.60 L369.50,95.90 L373.10,95.90 L373.10,97.20 L376.70,97.20 L376.70,98.50 L378.50,98.50 L380.03,98.50 L380.03,99.77 L383.10,99.77 L383.10,101.03 L386.17,101.03 L386.17,102.30 L387.70,102.30 L390.77,102.30 L390.77,103.45 L396.93,103.45 L396.93,104.60 L400.00,104.60 L403.07,104.60 L403.07,105.75 L409.23,105.75 L409.23,106.90 L412.30,106.90 L416.90,106.90 L416.90,108.20 L421.50,108.20 L426.15,108.20 L426.15,109.20 L430.80,109.20 L434.25,109.20 L434.25,109.90 L437.70,109.90 L441.55,109.90 L441.55,111.20 L445.40,111.20 L449.25,111.20 L449.25,112.70 L453.10,112.70 L456.15,112.70 L456.15,114.70 L459.20,114.70 L471.50,114.70 L471.90,114.70 L471.90,116.25 L472.70,116.25 L472.70,117.80 L473.10,117.80 L476.95,117.80 L476.95,118.80 L480.80,118.80 L496.20,118.80 L497.35,118.80 L497.35,120.10 L498.50,120.10 L505.40,120.10" fill="none" stroke="#66a345" stroke-width="1.5" stroke-linejoin="round"/>
<path d="M313.00,45.40 L318.50,45.40 L319.80,48.70 L320.20,48.70 L320.20,50.20 L321.00,50.20 L321.00,51.70 L321.80,51.70 L321.80,53.20 L322.60,53.20 L322.60,54.70 L323.40,54.70 L323.40,56.20 L323.80,56.20 L324.65,56.20 L324.65,57.85 L326.35,57.85 L326.35,59.50 L327.20,59.50 L328.90,59.50 L328.90,60.90 L330.60,60.90 L331.27,60.90 L331.27,62.47 L332.60,62.47 L332.60,64.03 L333.93,64.03 L333.93,65.60 L334.60,65.60 L335.27,65.60 L335.27,67.17 L336.60,67.17 L336.60,68.73 L337.93,68.73 L337.93,70.30 L338.60,70.30 L341.30,70.30 L341.30,71.60 L344.00,71.60 L345.70,71.60 L345.70,73.30 L349.10,73.30 L349.10,75.00 L350.80,75.00 L352.12,75.00 L352.12,76.35 L354.78,76.35 L354.78,77.70 L356.10,77.70 L358.15,77.70 L358.15,78.40 L360.20,78.40 L360.70,78.40 L360.70,79.73 L361.70,79.73 L361.70,81.05 L362.70,81.05 L362.70,82.38 L363.70,82.38 L363.70,83.70 L364.20,83.70 L365.55,83.70 L365.55,84.60 L366.90,84.60 L375.40,84.60 L376.16,84.60 L376.16,85.95 L377.69,85.95 L377.69,87.30 L379.21,87.30 L379.21,88.65 L380.74,88.65 L380.74,90.00 L381.50,90.00 L383.05,90.00 L383.05,91.53 L386.15,91.53 L386.15,93.07 L389.25,93.07 L389.25,94.60 L390.80,94.60 L391.55,94.60 L391.55,96.15 L393.05,96.15 L393.05,97.70 L393.80,97.70 L394.98,97.70 L394.98,98.85 L397.32,98.85 L397.32,100.00 L398.50,100.00 L400.80,100.00 L400.80,101.50 L403.10,101.50 L407.70,101.50 L407.70,102.30 L412.30,102.30 L412.56,102.30 L412.56,103.58 L413.07,103.58 L413.07,104.87 L413.59,104.87 L413.59,106.15 L414.11,106.15 L414.11,107.43 L414.62,107.43 L414.62,108.72 L415.14,108.72 L415.14,110.00 L415.40,110.00 L416.17,110.00 L416.17,111.27 L417.70,111.27 L417.70,112.53 L419.23,112.53 L419.23,113.80 L420.00,113.80 L423.85,113.80 L423.85,114.60 L427.70,114.60 L429.20,119.20 L436.50,119.20" fill="none" stroke="#203460" stroke-width="1.5" stroke-linejoin="round"/>
<path d="M51.90,262.00 L52.60,266.00 L54.50,275.00 L56.00,283.90 L57.20,295.00 L58.70,310.00 L59.60,319.60 L60.60,329.20 L62.50,335.00 L63.23,335.00 L63.23,336.45 L64.68,336.45 L64.68,337.90 L65.40,337.90 L66.12,337.90 L66.12,339.35 L67.58,339.35 L67.58,340.80 L68.30,340.80 L68.78,340.80 L68.78,342.07 L69.75,342.07 L69.75,343.33 L70.72,343.33 L70.72,344.60 L71.20,344.60 L72.15,344.60 L72.15,346.05 L74.05,346.05 L74.05,347.50 L75.00,347.50 L76.90,347.50 L76.90,349.40 L78.80,349.40 L79.42,349.40 L79.42,350.65 L80.67,350.65 L80.67,351.90 L81.30,351.90 L81.90,351.90 L81.90,353.05 L83.10,353.05 L83.10,354.20 L83.70,354.20 L86.25,354.20 L86.25,356.00 L88.80,356.00 L91.70,356.00 L91.70,357.50 L94.60,357.50 L98.05,357.50 L98.05,358.80 L101.50,358.80 L105.00,358.80 L105.00,360.60 L108.50,360.60 L111.35,360.60 L111.35,362.30 L114.20,362.30 L117.10,362.30 L117.10,362.90 L120.00,362.90 L123.50,363.10 L128.10,363.10 L128.10,364.60 L132.70,364.60 L136.55,364.60 L136.55,365.80 L140.40,365.80 L144.25,365.80 L144.25,366.90 L148.10,366.90 L153.45,366.90 L153.45,367.40 L158.80,367.40 L166.50,367.40 L166.50,367.70 L174.20,367.70 L181.30,367.70 L189.50,367.70 L189.50,368.20 L197.70,368.20 L205.85,368.20 L205.85,368.50 L214.00,368.50 L226.30,368.50 L226.30,368.80 L238.60,368.80 L241.45,368.80 L241.45,369.30 L244.30,369.30" fill="none" stroke="#8e1039" stroke-width="1.5" stroke-linejoin="round"/>
<path d="M51.90,262.00 L52.70,262.00 L52.70,262.30 L53.50,262.30 L53.88,262.30 L53.88,263.90 L54.62,263.90 L54.62,265.50 L55.00,265.50 L57.10,283.90 L59.40,295.00 L61.00,303.80 L62.50,311.00 L64.40,319.60 L64.89,319.60 L64.89,321.05 L65.86,321.05 L65.86,322.50 L66.84,322.50 L66.84,323.95 L67.81,323.95 L67.81,325.40 L68.30,325.40 L69.10,325.40 L69.10,327.00 L70.70,327.00 L70.70,328.60 L72.30,328.60 L72.30,330.20 L73.10,330.20 L74.52,330.20 L74.52,331.90 L77.38,331.90 L77.38,333.60 L78.80,333.60 L81.25,333.60 L81.25,335.50 L83.70,335.50 L85.38,335.50 L85.38,337.15 L88.73,337.15 L88.73,338.80 L90.40,338.80 L91.83,338.80 L91.83,340.10 L94.70,340.10 L94.70,341.40 L97.57,341.40 L97.57,342.70 L99.00,342.70 L100.25,342.70 L100.25,344.40 L101.50,344.40 L105.00,344.40 L105.00,346.20 L108.50,346.20 L111.95,346.20 L111.95,347.30 L115.40,347.30 L117.70,347.30 L117.70,347.90 L120.00,347.90 L122.03,347.90 L122.03,348.95 L126.07,348.95 L126.07,350.00 L128.10,350.00 L131.95,350.00 L131.95,351.50 L135.80,351.50 L139.65,351.50 L139.65,353.10 L143.50,353.10 L147.35,353.10 L147.35,355.10 L151.20,355.10 L155.00,355.10 L155.00,356.60 L158.80,356.60 L164.20,356.60 L164.20,357.70 L169.60,357.70 L174.20,357.70 L174.20,359.20 L178.80,359.20 L184.15,359.20 L184.15,359.50 L189.50,359.50 L192.80,359.50 L192.80,361.20 L196.10,361.20 L205.05,361.20 L205.05,361.50 L214.00,361.50 L219.75,361.50 L219.75,362.00 L225.50,362.00 L241.00,362.00 L241.62,362.00 L241.62,363.05 L242.88,363.05 L242.88,364.10 L243.50,364.10 L244.30,364.10 L244.30,365.20 L245.10,365.20" fill="none" stroke="#66a345" stroke-width="1.5" stroke-linejoin="round"/>
<path d="M51.90,262.00 L52.70,262.00 L52.70,262.30 L53.50,262.30 L53.88,262.30 L53.88,263.90 L54.62,263.90 L54.62,265.50 L55.00,265.50 L57.10,283.90 L59.40,295.00 L61.00,303.80 L62.50,310.00 L62.86,310.00 L62.86,311.45 L63.59,311.45 L63.59,312.90 L64.31,312.90 L64.31,314.35 L65.04,314.35 L65.04,315.80 L65.40,315.80 L65.76,315.80 L65.76,317.23 L66.49,317.23 L66.49,318.65 L67.21,318.65 L67.21,320.07 L67.94,320.07 L67.94,321.50 L68.30,321.50 L69.10,321.50 L69.10,322.80 L70.70,322.80 L70.70,324.10 L72.30,324.10 L72.30,325.40 L73.10,325.40 L74.55,325.40 L74.55,327.30 L76.00,327.30 L76.70,327.30 L76.70,329.00 L78.10,329.00 L78.10,330.70 L78.80,330.70 L80.03,330.70 L80.03,332.35 L82.47,332.35 L82.47,334.00 L83.70,334.00 L86.10,334.00 L86.10,336.00 L88.50,336.00 L89.70,336.00 L89.70,337.40 L92.10,337.40 L92.10,338.80 L93.30,338.80 L96.15,338.80 L96.15,340.80 L99.00,340.80 L101.40,340.80 L101.40,341.50 L103.80,341.50 L104.97,341.50 L104.97,342.65 L107.33,342.65 L107.33,343.80 L108.50,343.80 L111.35,343.80 L111.35,344.40 L114.20,344.40 L126.50,344.60 L128.85,344.60 L128.85,346.20 L131.20,346.20 L134.25,346.20 L134.25,346.90 L137.30,346.90 L137.88,346.90 L137.88,348.05 L139.03,348.05 L139.03,349.20 L139.60,349.20 L142.30,349.20 L142.30,350.00 L145.00,350.00 L146.15,350.00 L146.15,351.55 L148.45,351.55 L148.45,353.10 L149.60,353.10 L150.57,353.10 L150.57,354.25 L152.53,354.25 L152.53,355.40 L153.50,355.40 L154.20,357.70 L161.90,357.70 L173.20,357.90" fill="none" stroke="#203460" stroke-width="1.5" stroke-linejoin="round"/>
<path d="M313.00,262.00 L323.50,262.00 L324.80,270.90 L327.50,280.00 L329.60,288.00 L332.60,298.50 L333.20,301.10 L333.88,301.10 L333.88,302.75 L335.22,302.75 L335.22,304.40 L335.90,304.40 L337.85,304.40 L337.85,306.40 L339.80,306.40 L341.10,311.70 L343.10,318.30 L344.40,323.60 L345.57,323.60 L345.57,324.95 L347.93,324.95 L347.93,326.30 L349.10,326.30 L350.08,326.30 L350.08,327.95 L352.02,327.95 L352.02,329.60 L353.00,329.60 L354.32,329.60 L354.32,331.25 L356.98,331.25 L356.98,332.90 L358.30,332.90 L359.62,332.90 L359.62,334.20 L362.28,334.20 L362.28,335.50 L363.60,335.50 L364.93,335.50 L364.93,336.80 L367.57,336.80 L367.57,338.10 L368.90,338.10 L369.40,338.10 L369.40,339.55 L370.40,339.55 L370.40,341.00 L370.90,341.00 L371.22,341.00 L371.22,342.27 L371.88,342.27 L371.88,343.55 L372.52,343.55 L372.52,344.83 L373.18,344.83 L373.18,346.10 L373.50,346.10 L377.50,346.10 L377.50,348.20 L381.50,348.20 L382.85,348.20 L382.85,349.85 L385.55,349.85 L385.55,351.50 L386.90,351.50 L390.00,351.50 L390.00,352.40 L393.10,352.40 L393.60,352.40 L393.60,353.75 L394.60,353.75 L394.60,355.10 L395.10,355.10 L398.80,355.10 L398.80,355.80 L402.50,355.80 L403.80,359.10 L408.55,359.10 L408.55,359.80 L413.30,359.80 L413.95,359.80 L413.95,360.90 L414.60,360.90 L440.20,360.90 L440.52,360.90 L440.52,362.05 L441.18,362.05 L441.18,363.20 L441.50,363.20 L474.60,363.10 L475.40,363.10 L475.40,365.10 L476.20,365.10 L500.80,365.10 L501.95,365.10 L501.95,366.90 L503.10,366.90 L505.40,366.90" fill="none" stroke="#8e1039" stroke-width="1.5" stroke-linejoin="round"/>
<path d="M313.00,262.00 L323.50,262.00 L324.80,270.90 L326.60,280.00 L329.30,287.90 L331.90,294.50 L332.57,294.50 L332.57,295.83 L333.90,295.83 L333.90,297.17 L335.23,297.17 L335.23,298.50 L335.90,298.50 L336.50,298.50 L336.50,299.83 L337.70,299.83 L337.70,301.17 L338.90,301.17 L338.90,302.50 L339.50,302.50 L340.22,302.50 L340.22,303.80 L341.65,303.80 L341.65,305.10 L343.08,305.10 L343.08,306.40 L343.80,306.40 L345.80,306.40 L345.80,308.40 L347.80,308.40 L349.10,308.40 L349.10,310.05 L351.70,310.05 L351.70,311.70 L353.00,311.70 L353.45,311.70 L353.45,313.03 L354.35,313.03 L354.35,314.37 L355.25,314.37 L355.25,315.70 L355.70,315.70 L356.19,315.70 L356.19,317.02 L357.16,317.02 L357.16,318.35 L358.14,318.35 L358.14,319.68 L359.11,319.68 L359.11,321.00 L359.60,321.00 L360.93,321.00 L360.93,322.65 L363.57,322.65 L363.57,324.30 L364.90,324.30 L367.55,324.30 L367.55,326.30 L370.20,326.30 L372.65,326.30 L372.65,327.95 L377.55,327.95 L377.55,329.60 L380.00,329.60 L383.45,329.60 L383.45,331.30 L386.90,331.30 L389.30,331.30 L389.30,332.20 L391.70,332.20 L393.40,332.20 L393.40,333.90 L396.80,333.90 L396.80,335.60 L398.50,335.60 L400.18,335.60 L400.18,336.95 L403.52,336.95 L403.52,338.30 L405.20,338.30 L406.88,338.30 L406.88,339.65 L410.22,339.65 L410.22,341.00 L411.90,341.00 L413.92,341.00 L413.92,342.65 L417.98,342.65 L417.98,344.30 L420.00,344.30 L422.02,344.30 L422.02,345.65 L426.08,345.65 L426.08,347.00 L428.10,347.00 L432.10,347.00 L432.10,349.00 L436.10,349.00 L438.45,349.00 L438.45,350.30 L440.80,350.30 L450.00,350.30 L451.55,350.30 L451.55,351.70 L454.65,351.70 L454.65,353.10 L456.20,353.10 L457.35,353.10 L457.35,354.20 L458.50,354.20 L483.80,354.20 L485.00,354.20 L485.00,355.40 L486.20,355.40 L494.25,355.40 L494.25,355.80 L502.30,355.80 L502.68,355.80 L502.68,357.15 L503.43,357.15 L503.43,358.50 L503.80,358.50 L504.20,358.50 L504.20,359.65 L505.00,359.65 L505.00,360.80 L505.40,360.80" fill="none" stroke="#66a345" stroke-width="1.5" stroke-linejoin="round"/>
<path d="M313.00,262.00 L323.50,262.00 L324.80,270.90 L326.60,280.00 L329.30,287.90 L331.90,294.50 L332.57,294.50 L332.57,295.83 L333.90,295.83 L333.90,297.17 L335.23,297.17 L335.23,298.50 L335.90,298.50 L336.42,298.50 L336.42,299.82 L337.46,299.82 L337.46,301.14 L338.50,301.14 L338.50,302.46 L339.54,302.46 L339.54,303.78 L340.58,303.78 L340.58,305.10 L341.10,305.10 L341.76,305.10 L341.76,306.43 L343.09,306.43 L343.09,307.75 L344.41,307.75 L344.41,309.07 L345.74,309.07 L345.74,310.40 L346.40,310.40 L347.06,310.40 L347.06,311.72 L348.39,311.72 L348.39,313.05 L349.71,313.05 L349.71,314.38 L351.04,314.38 L351.04,315.70 L351.70,315.70 L353.02,315.70 L353.02,317.35 L355.68,317.35 L355.68,319.00 L357.00,319.00 L359.65,319.00 L359.65,319.60 L362.30,319.60 L362.97,319.60 L362.97,320.93 L364.30,320.93 L364.30,322.27 L365.63,322.27 L365.63,323.60 L366.30,323.60 L367.60,323.60 L367.60,324.95 L370.20,324.95 L370.20,326.30 L371.50,326.30 L380.00,326.30 L389.00,326.20 L389.70,326.20 L389.70,328.20 L390.40,328.20 L393.10,328.20 L393.75,328.20 L393.75,330.20 L394.40,330.20 L398.50,330.20 L399.80,334.20 L403.80,334.20 L404.15,334.20 L404.15,335.90 L404.85,335.90 L404.85,337.60 L405.20,337.60 L408.60,337.60 L409.90,342.30 L411.60,342.30 L411.60,343.60 L413.30,343.60 L414.60,348.40 L418.65,348.40 L418.65,349.00 L422.70,349.00 L433.30,348.80" fill="none" stroke="#203460" stroke-width="1.5" stroke-linejoin="round"/>
<rect x="0.75" y="0.75" width="518.5" height="452.5" fill="none" stroke="#000" stroke-width="1.5"/>
</svg>
</body></html>
